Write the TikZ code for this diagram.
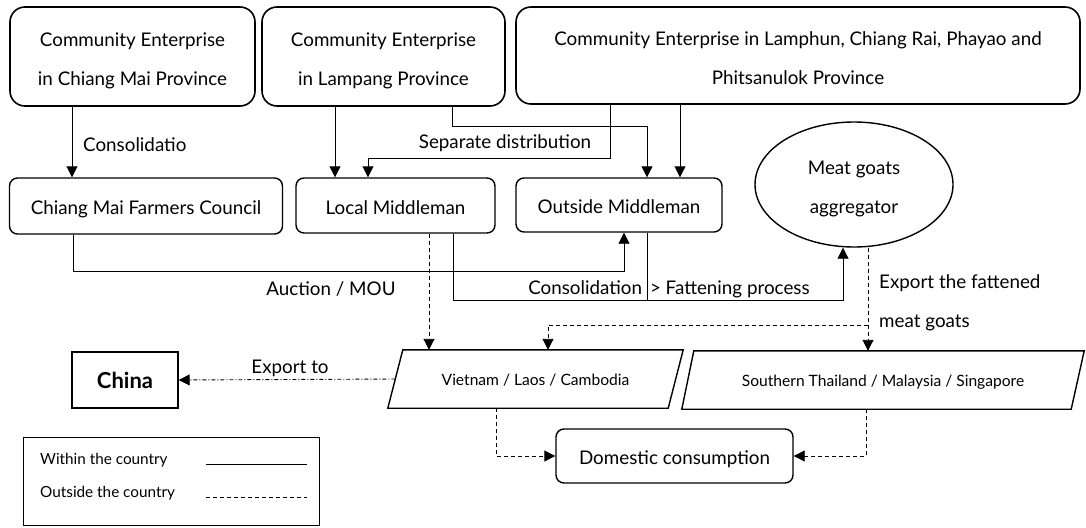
\documentclass[tikz,border=0pt]{standalone}
\usepackage{fontspec}
\setmainfont{Lato}
\usetikzlibrary{positioning, arrows.meta, shapes.geometric, calc}

\begin{document}
\begin{tikzpicture}[
    x=1pt, y=-1pt,
    topbox/.style={rectangle, draw, line width=1.6pt, rounded corners=15pt, align=center, inner sep=0pt, text height=58pt, text depth=0pt, font=\fontsize{18.8}{39}\selectfont},
    midbox/.style={rectangle, draw, line width=1.4pt, rounded corners=8pt, align=center, inner sep=0pt, text height=17pt, text depth=0pt, font=\fontsize{18.8}{22}\selectfont},
    hub/.style={ellipse, draw, line width=1.4pt, align=center, inner sep=0pt, text height=58pt, text depth=0pt, font=\fontsize{18.8}{39}\selectfont},
    dest/.style={rectangle, inner sep=0pt, minimum height=58, text height=13pt, text depth=0pt, font=\fontsize{15.6}{18}\selectfont},
    para/.style={line width=1.4pt, line join=miter},
    lbl/.style={inner sep=0pt, font=\fontsize{18.8}{22}\selectfont},
    legtxt/.style={inner sep=0pt, anchor=west, font=\fontsize{15.3}{17}\selectfont},
    conn/.style={line width=0.9pt, -{Triangle[length=11pt, width=11pt]}},
    link/.style={line width=0.9pt},
    abroad/.style={conn, dash pattern=on 4pt off 3pt},
    export/.style={conn, dash pattern=on 4pt off 2pt on 1pt off 2pt},
]
\useasboundingbox (0,0) rectangle (1086,527);

\node[topbox, minimum width=245, minimum height=99] (ceCM) at (132.5,56.5) {Community Enterprise\\in Chiang Mai Province};
\node[topbox, minimum width=243, minimum height=99] (ceLP) at (383.5,56.5) {Community Enterprise\\in Lampang Province};
\node[topbox, minimum width=564, minimum height=97] (ceNorth) at (798,55.5) {Community Enterprise in Lamphun, Chiang Rai, Phayao and\\Phitsanulok Province};

\node[midbox, minimum width=273, minimum height=56] (cfc) at (146,206) {Chiang Mai Farmers Council};
\node[midbox, minimum width=199, minimum height=55] (localMid) at (395.5,205.5) {Local Middleman};
\node[midbox, minimum width=206, minimum height=54] (outMid) at (619,205) {Outside Middleman};
\node[hub, minimum width=198, minimum height=125] (aggr) at (854,184.5) {Meat goats\\aggregator};

\node[dest, minimum width=295] (vlc) at (535.5,379) {Vietnam / Laos / Cambodia};
\draw[para] (vlc.south west) -- ($(vlc.north west)+(15,0)$) -- (vlc.north east) -- ($(vlc.south east)+(-15,0)$) -- cycle;
\node[dest, minimum width=402] (south) at (883,380) {Southern Thailand / Malaysia / Singapore};
\draw[para] (south.south west) -- ($(south.north west)+(12,0)$) -- (south.north east) -- ($(south.south east)+(-13,0)$) -- cycle;
\node[rectangle, draw, line width=1.4pt, minimum width=106, minimum height=56, font=\fontsize{22}{24}\selectfont\bfseries] (china) at (125,380) {China};
\node[midbox, minimum width=237, minimum height=54] (domestic) at (674.5,456) {Domestic consumption};

\draw[conn] (ceCM.south -| 72,0) -- (cfc.north -| 72,0);
\node[lbl, anchor=west] (lblCons) at (83,145) {Consolidatio};
\draw[conn] (ceLP.south -| 335,0) -- (localMid.north -| 335,0);
\draw[conn] (ceLP.south -| 452,0) |- (647,126) -- (outMid.north -| 647,0);
\draw[conn] (ceNorth.south -| 610,0) |- (368,158) -- (localMid.north -| 368,0);
\draw[conn] (ceNorth.south -| 680,0) -- (outMid.north -| 680,0);
\node[lbl] (lblSep) at (505,143) {Separate distribution};

\draw[conn] (cfc.south -| 73,0) |- (624,271) -- (outMid.south -| 624,0);
\node[lbl] (lblAuc) at (331,289) {Auction / MOU};
\draw[conn] (localMid.south -| 453,0) |- (843,300) -- (aggr.south -| 843,0);
\draw[link] (outMid.south -| 647,0) -- (647,300);
\node[lbl] (lblFat) at (669,289) {Consolidation \,> Fattening process};

\draw[abroad] (localMid.south -| 429,0) -- (vlc.north -| 429,0);
\draw[abroad] (aggr.south -| 868,0) -- (south.north -| 868,0);
\draw[abroad] (aggr.south -| 868,0) |- (548,325) -- (vlc.north -| 548,0);
\node[lbl, anchor=west] (lblExpA) at (879,283) {Export the fattened};
\node[lbl, anchor=west] (lblExpB) at (879,323) {meat goats};

\draw[export] ($(vlc.west)+(7.5,0)$) -- (china.east);
\node[lbl] (lblChina) at (290,368) {Export to};
\draw[abroad] (vlc.south -| 496,0) |- (domestic.west);
\draw[abroad] (south.south -| 866,0) |- (domestic.east);

\node[rectangle, draw, line width=0.8pt, minimum width=296, minimum height=88] (legend) at (171,481) {};
\node[legtxt] (legIn) at (40,460) {Within the country};
\node[legtxt] (legOut) at (40,493) {Outside the country};
\draw[line width=0.8pt] (206,464) -- (307,464);
\draw[line width=0.8pt, dash pattern=on 4pt off 3pt] (206,497) -- (307,497);
\end{tikzpicture}
\end{document}
